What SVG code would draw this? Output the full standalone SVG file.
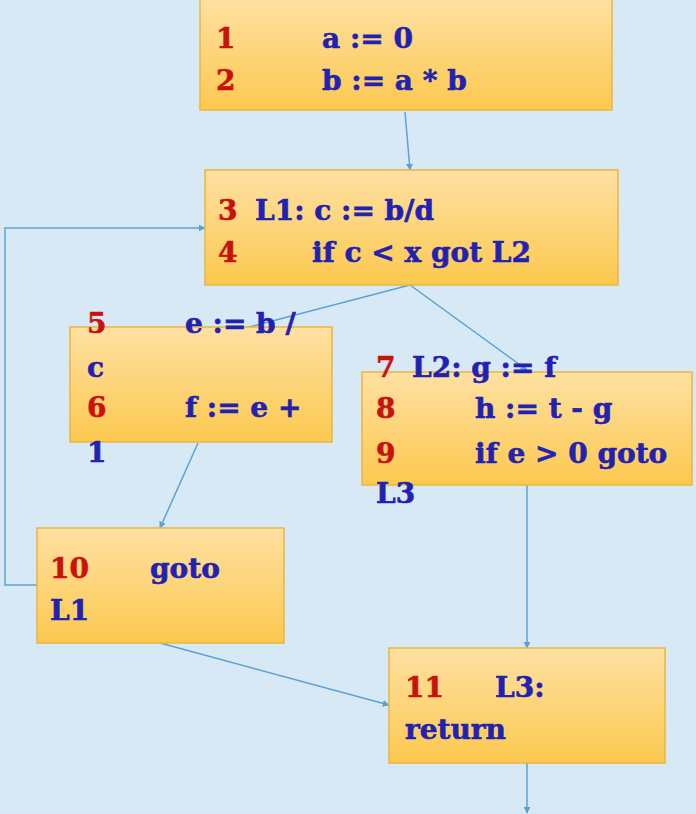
<svg xmlns="http://www.w3.org/2000/svg" width="696" height="814" viewBox="0 0 696 814">
<style>
.box{fill:url(#g);stroke:#eeb43c;stroke-width:1.5}
.t{font-family:"DejaVu Serif","Liberation Serif",serif;font-weight:bold;font-size:28px;stroke-width:0.6px}
.n{fill:#c8120e;stroke:#c8120e}
.c{fill:#2222b2;stroke:#2222b2}
.e{fill:none;stroke:#5aa2d2;stroke-width:1.5}
</style>
<defs>
<linearGradient id="g" x1="0" y1="0" x2="0" y2="1">
<stop offset="0" stop-color="#fee0a2"/>
<stop offset="1" stop-color="#fcc94f"/>
</linearGradient>
<marker id="a" viewBox="0 0 10 10" refX="9" refY="5" markerWidth="7" markerHeight="7" orient="auto" markerUnits="userSpaceOnUse"><path d="M0,0L10,5L0,10z" fill="#5aa2d2"/></marker>
</defs>
<rect width="696" height="814" fill="#d8e9f6"/>
<g id="connectors">
<path class="e" d="M405,112L410,170" marker-end="url(#a)"/>
<path class="e" d="M410,285L192,342" marker-end="url(#a)"/>
<path class="e" d="M410,285L527,370" marker-end="url(#a)"/>
<path class="e" d="M198,443L160,528" marker-end="url(#a)"/>
<path class="e" d="M37,585H5V228H205" marker-end="url(#a)"/>
<path class="e" d="M527,485V648" marker-end="url(#a)"/>
<path class="e" d="M160,643L389,705" marker-end="url(#a)"/>
<path class="e" d="M527,763V813" marker-end="url(#a)"/>
</g>
<g id="b1">
<rect class="box" x="200" y="-2" width="412" height="112"/>
<text class="t n" x="216" y="48">1</text><text class="t c" x="322" y="48">a := 0</text>
<text class="t n" x="216" y="90">2</text><text class="t c" x="322" y="90">b := a * b</text>
</g>
<g id="b2">
<rect class="box" x="205" y="170" width="413" height="115"/>
<text class="t n" x="218" y="220">3</text><text class="t c" x="255" y="220">L1:  c := b/d</text>
<text class="t n" x="218" y="262">4</text><text class="t c" x="312" y="262">if c &lt; x got L2</text>
</g>
<g id="b3">
<rect class="box" x="70" y="327" width="262" height="115"/>
<text class="t n" x="87" y="333">5</text><text class="t c" x="185" y="333">e := b /</text>
<text class="t c" x="87" y="377">c</text>
<text class="t n" x="87" y="417">6</text><text class="t c" x="185" y="417">f := e +</text>
<text class="t c" x="87" y="462">1</text>
</g>
<g id="b4">
<rect class="box" x="362" y="372" width="330" height="113"/>
<text class="t n" x="376" y="377">7</text><text class="t c" x="412" y="377">L2:  g := f</text>
<text class="t n" x="376" y="418">8</text><text class="t c" x="475" y="418">h := t - g</text>
<text class="t n" x="376" y="463">9</text><text class="t c" x="475" y="463">if e &gt; 0 goto</text>
<text class="t c" x="376" y="503">L3</text>
</g>
<g id="b5">
<rect class="box" x="37" y="528" width="247" height="115"/>
<text class="t n" x="50" y="578">10</text><text class="t c" x="150" y="578">goto</text>
<text class="t c" x="50" y="620">L1</text>
</g>
<g id="b6">
<rect class="box" x="389" y="648" width="276" height="115"/>
<text class="t n" x="405" y="697">11</text><text class="t c" x="495" y="697">L3:</text>
<text class="t c" x="405" y="739">return</text>
</g>
</svg>
